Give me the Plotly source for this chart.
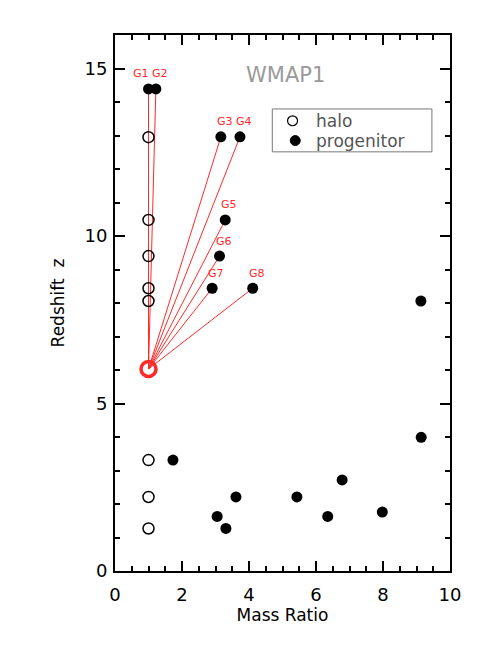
"""Halo / progenitor mass ratio vs redshift (WMAP1)."""

import plotly.graph_objects as go

FONT = "DejaVu Sans"
RED = "#FF2A2A"

# open circles: halo
halo_x = [1.0, 1.0, 1.0, 1.0, 1.0, 1.0, 1.0, 1.0]
halo_z = [12.95, 10.48, 9.40, 8.44, 8.06, 3.31, 2.21, 1.27]

# labelled progenitor groups
group_names = ["G1", "G2", "G3", "G4", "G5", "G6", "G7", "G8"]
group_x = [1.0, 1.22, 3.16, 3.73, 3.29, 3.12, 2.90, 4.11]
group_z = [14.39, 14.39, 12.96, 12.96, 10.48, 9.40, 8.44, 8.44]

# remaining progenitors
prog_x = [1.73, 3.05, 3.31, 3.61, 5.43, 6.35, 6.78, 7.98, 9.14, 9.13]
prog_z = [3.31, 1.63, 1.27, 2.21, 2.21, 1.63, 2.72, 1.76, 3.99, 8.06]

# the target halo all the lines point to
target_x = [1.0]
target_z = [6.03]

fig = go.Figure()

# red connector lines target -> each group
line_x, line_z = [], []
for gx, gz in zip(group_x, group_z):
    line_x += [target_x[0], gx, None]
    line_z += [target_z[0], gz, None]
fig.add_trace(go.Scatter(x=line_x, y=line_z, mode="lines",
                         line=dict(color=RED, width=1), showlegend=False,
                         hoverinfo="skip"))

fig.add_trace(go.Scatter(x=halo_x, y=halo_z, mode="markers", name="halo",
                         showlegend=False,
                         marker=dict(symbol="circle-open", size=11, color="black",
                                     line=dict(width=1.5, color="black"))))
fig.add_trace(go.Scatter(x=group_x + prog_x, y=group_z + prog_z, mode="markers",
                         name="progenitor", showlegend=False,
                         marker=dict(symbol="circle", size=11, color="black")))
fig.add_trace(go.Scatter(x=target_x, y=target_z, mode="markers", showlegend=False,
                         marker=dict(symbol="circle-open", size=15, color=RED,
                                     line=dict(width=3.5, color=RED))))

for i, (name, gx, gz) in enumerate(zip(group_names, group_x, group_z)):
    fig.add_annotation(x=gx, y=gz, text=name, showarrow=False,
                       xshift=-8 if i == 0 else 4, yshift=15,
                       font=dict(family=FONT, size=11, color=RED))

fig.add_annotation(x=0.508, y=0.925, xref="paper", yref="paper", text="WMAP1",
                   xanchor="center", yanchor="middle", showarrow=False,
                   font=dict(family=FONT, size=21, color="#9a9a9a"))

# hand-made legend box
fig.add_shape(type="rect", xref="paper", yref="paper", x0=0.4695, x1=0.946,
              y0=0.782, y1=0.862, line=dict(color="#777", width=1))
fig.add_shape(type="circle", xref="paper", yref="paper",
              x0=0.530 - 0.0149, x1=0.530 + 0.0149, y0=0.840 - 0.0093, y1=0.840 + 0.0093,
              line=dict(color="black", width=1.2))
fig.add_shape(type="circle", xref="paper", yref="paper",
              x0=0.538 - 0.0149, x1=0.538 + 0.0149, y0=0.803 - 0.0093, y1=0.803 + 0.0093,
              line=dict(color="black", width=1), fillcolor="black")
for label, ly in [("halo", 0.840), ("progenitor", 0.803)]:
    fig.add_annotation(x=0.594, y=ly, xref="paper", yref="paper", text=label,
                       xanchor="left", yanchor="middle", showarrow=False,
                       font=dict(family=FONT, size=17, color="#555"))

axis_common = dict(
    showgrid=False, zeroline=False, showline=True, linecolor="black", linewidth=2,
    mirror="ticks", ticks="inside", ticklen=10, tickwidth=1.5, tickcolor="black",
    tickfont=dict(family=FONT, size=18, color="black"),
)

fig.update_xaxes(range=[0, 10], dtick=2, tick0=0, ticklabelstandoff=6,
                 minor=dict(dtick=0.5, ticks="inside", ticklen=5, tickcolor="black"),
                 title=dict(text="Mass Ratio",
                            font=dict(family=FONT, size=17, color="black"),
                            standoff=6),
                 **axis_common)
fig.update_yaxes(range=[0, 16], dtick=5, tick0=0, ticklabelstandoff=2,
                 minor=dict(dtick=1, ticks="inside", ticklen=5, tickcolor="black"),
                 title=dict(text="Redshift  z",
                            font=dict(family=FONT, size=17, color="black"),
                            standoff=16),
                 **axis_common)

fig.update_layout(
    width=485, height=645,
    margin=dict(l=107, r=43, t=27, b=82),
    paper_bgcolor="white", plot_bgcolor="white",
    showlegend=False,
    font=dict(family=FONT),
)

fig.write_html("out.html")
